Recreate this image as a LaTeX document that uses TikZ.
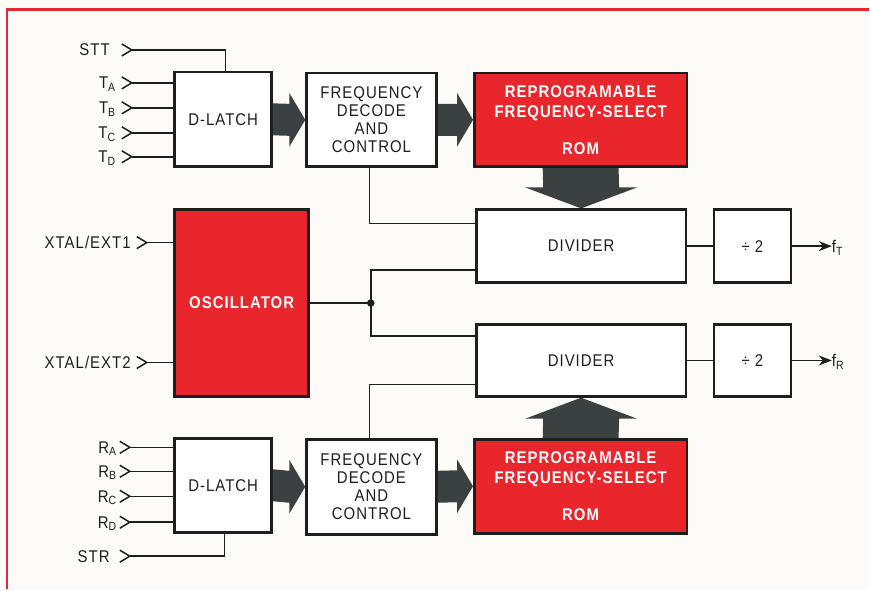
\documentclass[tikz,border=0pt]{standalone}
\usepackage{fontspec}
\setmainfont{Liberation Sans}[FakeStretch=0.88,LetterSpace=6]
\usetikzlibrary{calc,arrows.meta}
\definecolor{rred}{HTML}{E8262B}
\definecolor{fatc}{HTML}{3B4040}
\definecolor{ink}{HTML}{1E1E1E}
\definecolor{bgc}{HTML}{FCFBF7}
\newcommand\myfatH[2]{%
  \fill[fatc] ($(#1.east)+(0,-16)$) -- ($(#2.west)+(-16,-16)$) -- ($(#2.west)+(-16,-27)$) -- (#2.west)
    -- ($(#2.west)+(-16,27)$) -- ($(#2.west)+(-16,16)$) -- ($(#1.east)+(0,16)$) -- cycle;}
\begin{document}
\begin{tikzpicture}[x=1pt,y=-1pt,
  blk/.style={draw=ink, line width=2.6pt, fill=white, inner sep=0pt, align=center,
    font=\fontsize{17}{18}\selectfont, text=ink},
  redblk/.style={blk, fill=rred, text=white, font=\fontsize{17}{20}\selectfont\bfseries},
  wire/.style={draw=ink, line width=1.5pt},
  lbl/.style={inner sep=0pt, anchor=base east, text=ink, font=\fontsize{17}{18}\selectfont},
  olbl/.style={inner sep=0pt, anchor=base west, text=ink, font=\fontsize{17}{18}\selectfont},
  chev/.pic={\draw[wire] (-10,-6) -- (0,0) -- (-10,6);}
]
\fill[bgc] (0,0) rectangle (870,590);
\draw[rred, line width=2.6pt] (7,590) -- (7,9.5) -- (870,9.5);

% blocks
\node[blk, minimum width=97pt, minimum height=95pt] (dl1) at (223.5,119.5) {D-LATCH};
\node[blk, minimum width=130pt, minimum height=94pt] (fd1) at (372,120) {FREQUENCY\\DECODE\\AND\\CONTROL};
\node[redblk, minimum width=213pt, minimum height=94pt] (rom1) at (581.5,120) {REPROGRAMABLE\\FREQUENCY-SELECT\\[17pt]ROM};
\node[blk, minimum width=210pt, minimum height=73pt] (div1) at (582,246.5) {DIVIDER};
\node[blk, minimum width=77pt, minimum height=73pt] (h1) at (753.5,246.5) {÷ 2};
\node[redblk, minimum width=134pt, minimum height=187pt] (osc) at (242,303.5) {OSCILLATOR};
\node[blk, minimum width=210pt, minimum height=72pt] (div2) at (582,361) {DIVIDER};
\node[blk, minimum width=77pt, minimum height=72pt] (h2) at (753.5,361) {÷ 2};
\node[blk, minimum width=97pt, minimum height=94pt] (dl2) at (223.5,486) {D-LATCH};
\node[blk, minimum width=130pt, minimum height=95pt] (fd2) at (372,487.5) {FREQUENCY\\DECODE\\AND\\CONTROL};
\node[redblk, minimum width=213pt, minimum height=94pt] (rom2) at (581.5,487) {REPROGRAMABLE\\FREQUENCY-SELECT\\[17pt]ROM};

% fat arrows
\myfatH{dl1}{fd1}
\myfatH{fd1}{rom1}
\myfatH{dl2}{fd2}
\myfatH{fd2}{rom2}
\fill[fatc] ($(rom1.south)+(-38,0)$) -- ($(div1.north)+(-38,-21)$) -- ($(div1.north)+(-56,-21)$) -- (div1.north)
  -- ($(div1.north)+(56,-21)$) -- ($(div1.north)+(38,-21)$) -- ($(rom1.south)+(38,0)$) -- cycle;
\fill[fatc] ($(rom2.north)+(-38,0)$) -- ($(div2.south)+(-38,21)$) -- ($(div2.south)+(-56,21)$) -- (div2.south)
  -- ($(div2.south)+(56,21)$) -- ($(div2.south)+(38,21)$) -- ($(rom2.north)+(38,0)$) -- cycle;

% top inputs
\coordinate (cstt) at (132,50);
\coordinate (cta) at (132,83);
\coordinate (ctb) at (132,108);
\coordinate (ctc) at (132,133);
\coordinate (ctd) at (132,157);
\node[lbl] (lstt) at (110,56) {STT};
\node[lbl] (lta) at (116,89) {T\textsubscript{A}};
\node[lbl] (ltb) at (116,114) {T\textsubscript{B}};
\node[lbl] (ltc) at (116,139) {T\textsubscript{C}};
\node[lbl] (ltd) at (116,163) {T\textsubscript{D}};
\foreach \c in {cstt,cta,ctb,ctc,ctd} {\pic at (\c) {chev};}
\draw[wire] (cstt) -| ([xshift=2.5pt]dl1.north);
\foreach \c in {cta,ctb,ctc,ctd} {\draw[wire] (\c) -- (\c -| dl1.west);}

% oscillator inputs
\coordinate (cx1) at (147,243);
\coordinate (cx2) at (147,363);
\node[lbl] (lx1) at (131,249) {XTAL/EXT1};
\node[lbl] (lx2) at (131,369) {XTAL/EXT2};
\pic at (cx1) {chev};
\pic at (cx2) {chev};
\draw[wire] (cx1) -- (cx1 -| osc.west);
\draw[wire] (cx2) -- (cx2 -| osc.west);

% bottom inputs
\coordinate (cra) at (130,448);
\coordinate (crb) at (130,472);
\coordinate (crc) at (130,497);
\coordinate (crd) at (130,523);
\coordinate (cstr) at (130,557);
\node[lbl] (lra) at (117,454) {R\textsubscript{A}};
\node[lbl] (lrb) at (117,478) {R\textsubscript{B}};
\node[lbl] (lrc) at (117,503) {R\textsubscript{C}};
\node[lbl] (lrd) at (117,529) {R\textsubscript{D}};
\node[lbl] (lstr) at (110,563) {STR};
\foreach \c in {cra,crb,crc,crd,cstr} {\pic at (\c) {chev};}
\foreach \c in {cra,crb,crc,crd} {\draw[wire] (\c) -- (\c -| dl2.west);}
\draw[wire] (cstr) -| ([xshift=1.5pt]dl2.south);

% internal wiring
\draw[wire] ([xshift=-2pt]fd1.south) |- ([yshift=-15pt]div1.north west);
\draw[wire] ([xshift=-2pt]fd2.north) |- ([yshift=13pt]div2.south west);
\coordinate (jn) at ([xshift=61pt]osc.east);
\draw[wire] (osc.east) -- (jn);
\draw[wire] (jn) |- ([yshift=14pt]div1.south west);
\draw[wire] (jn) |- ([yshift=-13pt]div2.north west);
\fill[ink] (jn) circle (3.8);

% outputs
\draw[wire] (div1.east) -- (h1.west);
\draw[wire] (div2.east) -- (h2.west);
\node[olbl] (ft) at (833,253) {f\textsubscript{T}};
\node[olbl] (fr) at (833,367) {f\textsubscript{R}};
\draw[wire,-{Stealth[length=13pt,width=10pt]}] (h1.east) -- (h1.east -| ft.west);
\draw[wire,-{Stealth[length=13pt,width=10pt]}] (h2.east) -- (h2.east -| fr.west);
\end{tikzpicture}
\end{document}
